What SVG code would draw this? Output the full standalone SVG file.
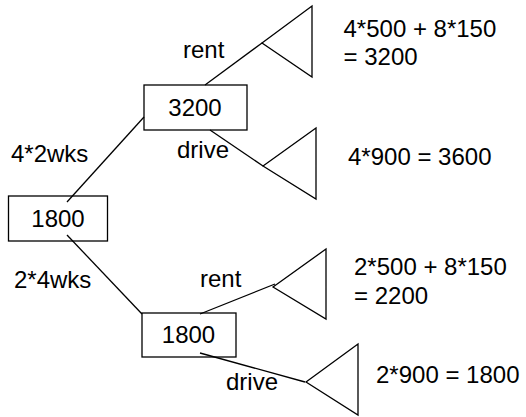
<svg xmlns="http://www.w3.org/2000/svg" width="526" height="417" viewBox="0 0 526 417">
<style>
text{font-family:"Liberation Sans",Arial,sans-serif;font-size:24px;fill:#000}
.box{fill:none;stroke:#000;stroke-width:1.3}
.tri{fill:none;stroke:#000;stroke-width:1.3;stroke-linejoin:miter}
.edge{stroke:#000;stroke-width:1.3;fill:none}
.c{text-anchor:middle}
</style>
<rect width="526" height="417" fill="#fff"/>
<g id="connectors">
<line class="edge" x1="67" y1="202" x2="144" y2="117"/>
<line class="edge" x1="67" y1="235" x2="142" y2="314"/>
<line class="edge" x1="205" y1="85" x2="262" y2="43"/>
<line class="edge" x1="210" y1="130" x2="263" y2="166"/>
<line class="edge" x1="200" y1="314" x2="275" y2="284"/>
<line class="edge" x1="200" y1="353" x2="305" y2="382"/>
<text x="11" y="162">4*2wks</text>
<text x="14" y="288">2*4wks</text>
<text x="183" y="58">rent</text>
<text x="177" y="158">drive</text>
<text x="200" y="287">rent</text>
<text x="226" y="390">drive</text>
</g>
<g id="root">
<rect class="box" x="8.5" y="196" width="99" height="45"/>
<text class="c" x="58" y="227">1800</text>
</g>
<g id="n3200">
<rect class="box" x="144" y="85" width="103" height="45"/>
<text class="c" x="195" y="116">3200</text>
</g>
<g id="n1800b">
<rect class="box" x="142" y="313" width="94" height="44"/>
<text class="c" x="188.5" y="343">1800</text>
</g>
<g id="leaf1">
<polygon class="tri" points="262,43 312,6 312,77"/>
<text x="343.5" y="37">4*500 + 8*150</text>
<text x="343.5" y="65">= 3200</text>
</g>
<g id="leaf2">
<polygon class="tri" points="263,166 316,128 316,199"/>
<text x="348" y="165">4*900 = 3600</text>
</g>
<g id="leaf3">
<polygon class="tri" points="273,287 326,249 326,319"/>
<text x="354" y="275">2*500 + 8*150</text>
<text x="354" y="304">= 2200</text>
</g>
<g id="leaf4">
<polygon class="tri" points="306,382 358,344 358,415"/>
<text x="376" y="383">2*900 = 1800</text>
</g>
</svg>
